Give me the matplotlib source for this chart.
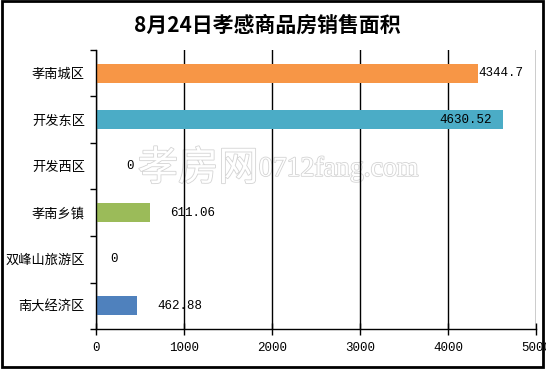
import numpy as np
import matplotlib.pyplot as plt
import matplotlib.patheffects as pe
from matplotlib.patches import Rectangle

plt.rcParams['font.family'] = ['Noto Sans CJK SC', 'DejaVu Sans']

# 数据
categories = ['孝南城区', '开发东区', '开发西区', '孝南乡镇', '双峰山旅游区', '南大经济区']
areas = [4344.7, 4630.52, 0, 611.06, 0, 462.88]
value_labels = ['4344.7', '4630.52', '0', '611.06', '0', '462.88']
bar_colors = ['#F79646', '#4BACC6', '#F79646', '#9BBB59', '#4BACC6', '#4F81BD']
x_ticks = [0, 1000, 2000, 3000, 4000, 5000]

# 标签偏移（像素）
label_dx = [0, -12, 30, 20, 14, 21]
label_ha = ['left', 'right', 'left', 'left', 'left', 'left']

fig = plt.figure(figsize=(5.46, 3.69), dpi=100)
ax = fig.add_axes([0.1758, 0.1084, 0.8059, 0.7561])
ax.set_facecolor('none')

y = np.arange(len(categories))
ax.barh(y, areas, height=0.4, color=bar_colors, zorder=2)
ax.set_ylim(len(categories) - 0.5, -0.5)
ax.set_xlim(0, 5000)

ax.set_yticks(y)
ax.set_yticklabels(categories, fontsize=9.5)
ax.set_yticks(np.arange(len(categories) + 1) - 0.5, minor=True)
ax.tick_params(axis='y', which='major', length=0, pad=8)
ax.tick_params(axis='y', which='minor', length=4, width=1, direction='out')

ax.set_xticks(x_ticks)
ax.set_xticklabels([str(t) for t in x_ticks], fontsize=9, family='Liberation Mono')
ax.tick_params(axis='x', length=8, width=1, direction='inout', pad=5)

ax.set_axisbelow(True)
ax.grid(axis='x', color='black', linewidth=1)
ax.spines['top'].set_visible(False)
ax.spines['right'].set_visible(False)
for s in ['left', 'bottom']:
    ax.spines[s].set_linewidth(1)

for i, (v, lab) in enumerate(zip(areas, value_labels)):
    ax.annotate(lab, (v, i), xytext=(label_dx[i] * 0.72, 0), textcoords='offset points',
                ha=label_ha[i], va='center', fontsize=9, family='Liberation Mono', zorder=3)

# 水印
ax.text(0.095, 0.575, '孝房网', transform=ax.transAxes, fontsize=29, color='white',
        va='center', ha='left', zorder=0.1,
        path_effects=[pe.withStroke(linewidth=1.2, foreground='#d4d4d4')])
ax.text(0.37, 0.572, '0712fang.com', transform=ax.transAxes, fontsize=20, color='white',
        va='center', ha='left', zorder=0.1, family='Liberation Serif',
        path_effects=[pe.withStroke(linewidth=1.2, foreground='#d4d4d4')])

fig.text(0.49, 0.932, '8月24日孝感商品房销售面积', ha='center', va='center',
         fontsize=15, fontweight='bold')

fig.patches.append(Rectangle((0.003, 0.006), 0.992, 0.99, transform=fig.transFigure,
                             fill=False, edgecolor='black', linewidth=2))

fig.savefig('out.png', dpi=100)
